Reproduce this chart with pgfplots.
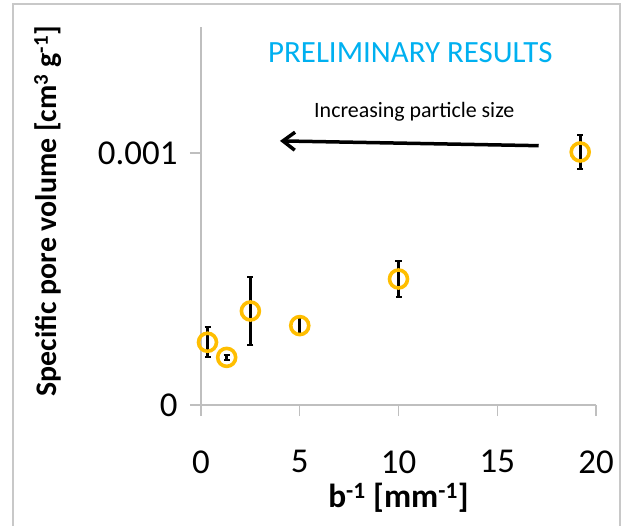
\documentclass[border=0pt]{standalone}
\usepackage{pgfplots}
\pgfplotsset{compat=1.18}
\usepackage{fontspec}
\setmainfont{Carlito}
\usetikzlibrary{arrows.meta}
\definecolor{gold}{HTML}{FFBE00}
\definecolor{titlecyan}{HTML}{00B0F0}
\definecolor{axgray}{HTML}{BFBFBF}
\definecolor{framegray}{HTML}{C8C8C8}
\begin{document}
\begin{tikzpicture}
\useasboundingbox (-201bp,-121bp) rectangle (428bp,405bp);
\draw[framegray, line width=1.2bp] (-188bp,-130bp) -- (-188bp,401bp) -- (419bp,401bp) -- (419bp,-130bp);
\begin{axis}[
  at={(0,0)}, anchor=south west,
  scale only axis, width=395bp, height=378bp,
  xmin=0, xmax=20, ymin=0, ymax=0.0015,
  axis x line*=bottom, axis y line*=left,
  axis line style={axgray, line width=1.2bp, -},
  xtick={0,5,10,15,20},
  ytick={0,0.001}, yticklabels={0,0.001},
  scaled y ticks=false,
  tick align=outside, major tick length=11bp,
  tick style={axgray, line width=1.2bp},
  /pgf/number format/assume math mode=true,
  ticklabel style={font=\fontsize{35}{40}\selectfont, black},
  yticklabel style={xshift=-9bp},
  xticklabel style={yshift=-31bp},
  xlabel={\textbf{b\textsuperscript{-1} [mm\textsuperscript{-1}]}},
  ylabel={\textbf{Specific pore volume [cm\textsuperscript{3} g\textsuperscript{-1}]}},
  xlabel style={font=\fontsize{33.5}{38}\selectfont, at={(axis description cs:0.5,-0.246)}, anchor=center},
  ylabel style={font=\fontsize{30}{34}\selectfont, at={(axis description cs:-0.387,0.513)}, anchor=center},
  clip=false,
]
\addplot[draw=none, mark=none, forget plot,
  error bars/.cd, y dir=both, y explicit,
  error bar style={draw=black, solid, line width=2.6bp},
  error mark options={draw=black, rotate=90, mark size=3bp, line width=2.2bp}]
  table[x=x, y=y, y error=e] {
  x     y         e
  0.33  0.000249  0.000060
  1.3   0.000189  0.000010
  2.5   0.000373  0.000134
  5     0.000315  0.000034
  10    0.000500  0.000070
  19.2  0.001004  0.000066
};
\addplot[only marks, mark=o, mark size=9bp,
  mark options={draw=gold, line width=3.6bp, fill=none}]
  table[x=x, y=y] {
  x     y
  0.33  0.000249
  1.3   0.000189
  2.5   0.000373
  5     0.000315
  10    0.000500
  19.2  0.001004
};
\node[titlecyan, font=\fontsize{31}{36}\selectfont] at (axis cs:10.6,0.001397) {PRELIMINARY RESULTS};
\node[black, font=\fontsize{22}{26}\selectfont] at (axis cs:10.8,0.001163) {Increasing particle size};
\draw[black, line width=3.5bp, -{Straight Barb[length=12bp, width=18bp]}]
  (axis cs:17.1,0.001029) -- (axis cs:4.0,0.001048);
\end{axis}
\end{tikzpicture}
\end{document}
